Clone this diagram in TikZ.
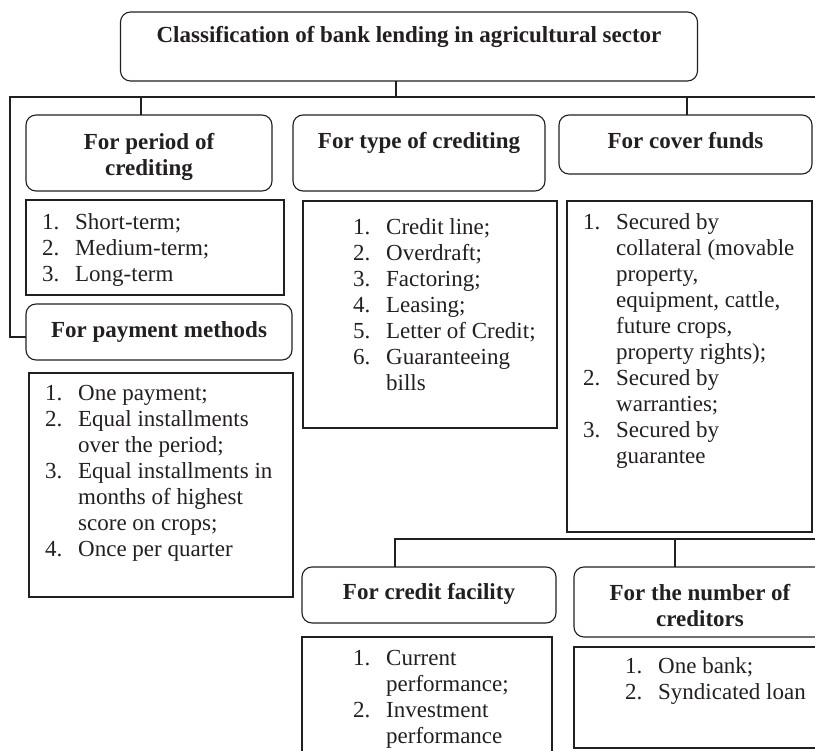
\documentclass[tikz,border=0pt]{standalone}
\usepackage{fontspec}
\setmainfont{Liberation Serif}
\usepackage{array}
\definecolor{ink}{RGB}{35,31,32}
\newcommand\itemlist[1]{\begin{tabular}[t]{@{}p{33pt}@{}l@{}}#1\end{tabular}}
\newcommand\headtext[1]{\begin{tabular}[t]{@{}c@{}}#1\end{tabular}}
\begin{document}
\begin{tikzpicture}[x=1pt,y=-1pt,
  every node/.style={font=\fontsize{23pt}{26pt}\selectfont, text=ink},
  hbox/.style={draw=ink, line width=1.1pt, rounded corners=10pt, inner sep=0pt, outer sep=0pt, anchor=north west},
  lbox/.style={draw=ink, line width=1.1pt, inner sep=0pt, outer sep=0pt, anchor=north west},
  htext/.style={font=\fontsize{23pt}{26pt}\selectfont\bfseries, inner sep=0pt, anchor=base},
  ltext/.style={inner sep=0pt, anchor=base west},
  conn/.style={draw=ink, line width=1.1pt}]
\useasboundingbox (0,0) rectangle (815,751);
\clip (0,0) rectangle (815,751);

% headings
\node[hbox, minimum width=577pt, minimum height=69pt] (titlebox) at (120.5,12) {};
\node[htext] (titletxt) at (409,43) {Classification of bank lending in agricultural sector};

\node[hbox, minimum width=246pt, minimum height=76pt] (perbox) at (26,115) {};
\node[htext] (pertxt) at (149,150) {\headtext{For period of\\crediting}};
\node[hbox, minimum width=252pt, minimum height=76pt] (typbox) at (293,115) {};
\node[htext] (typtxt) at (419,149) {For type of crediting};
\node[hbox, minimum width=253pt, minimum height=59pt] (covbox) at (559,115) {};
\node[htext] (covtxt) at (685.5,149) {For cover funds};

% period list
\node[lbox, minimum width=258pt, minimum height=95pt] (perlist) at (26,200) {};
\node[ltext] (perltxt) at (42,230) {\itemlist{1.&Short-term;\\2.&Medium-term;\\3.&Long-term}};

% payment
\node[hbox, minimum width=266pt, minimum height=56pt] (paybox) at (26,304) {};
\node[htext] (paytxt) at (159,338) {For payment methods};
\node[lbox, minimum width=264pt, minimum height=224pt] (paylist) at (29,373) {};
\node[ltext] (payltxt) at (45,401) {\itemlist{1.&One payment;\\2.&Equal installments\\&over the period;\\3.&Equal installments in\\&months of highest\\&score on crops;\\4.&Once per quarter}};

% type list
\node[lbox, minimum width=254pt, minimum height=227pt] (typlist) at (303,201) {};
\node[ltext] (typltxt) at (353,235) {\itemlist{1.&Credit line;\\2.&Overdraft;\\3.&Factoring;\\4.&Leasing;\\5.&Letter of Credit;\\6.&Guaranteeing\\&bills}};

% cover list
\node[lbox, minimum width=245pt, minimum height=331pt] (covlist) at (567,201) {};
\node[ltext] (covltxt) at (583,230) {\itemlist{1.&Secured by\\&collateral (movable\\&property,\\&equipment, cattle,\\&future crops,\\&property rights);\\2.&Secured by\\&warranties;\\3.&Secured by\\&guarantee}};

% bottom headings
\node[hbox, minimum width=254pt, minimum height=56pt] (credbox) at (302,567) {};
\node[htext] (credtxt) at (429,599) {For credit facility};
\node[hbox, minimum width=260pt, minimum height=70pt] (numbox) at (574,567) {};
\node[htext] (numtxt) at (700,600) {\headtext{For the number of\\creditors}};

\node[lbox, minimum width=250pt, minimum height=140pt] (credlist) at (302,637) {};
\node[ltext] (credltxt) at (353,665) {\itemlist{1.&Current\\&performance;\\2.&Investment\\&performance}};
\node[lbox, minimum width=260pt, minimum height=101pt] (numlist) at (574,647) {};
\node[ltext] (numltxt) at (625,673) {\itemlist{1.&One bank;\\2.&Syndicated loan}};

% connectors
\coordinate (hub) at (396,97);
\coordinate (lend) at (10,97);
\coordinate (rend) at (830,97);
\coordinate (d1) at (141,97);
\coordinate (d3) at (687,97);
\coordinate (lbot) at (10,337);
\draw[conn] (hub |- titlebox.south) -- (hub);
\draw[conn] (rend) -- (lend) -- (lbot) -- (lbot -| paybox.west);
\draw[conn] (d1) -- (d1 |- perbox.north);
\draw[conn] (d3) -- (d3 |- covbox.north);

\coordinate (b1) at (395,539);
\coordinate (b2) at (675,539);
\coordinate (bend) at (830,539);
\draw[conn] (bend) -- (b1) -- (b1 |- credbox.north);
\draw[conn] (b2) -- (b2 |- numbox.north);
\end{tikzpicture}
\end{document}
